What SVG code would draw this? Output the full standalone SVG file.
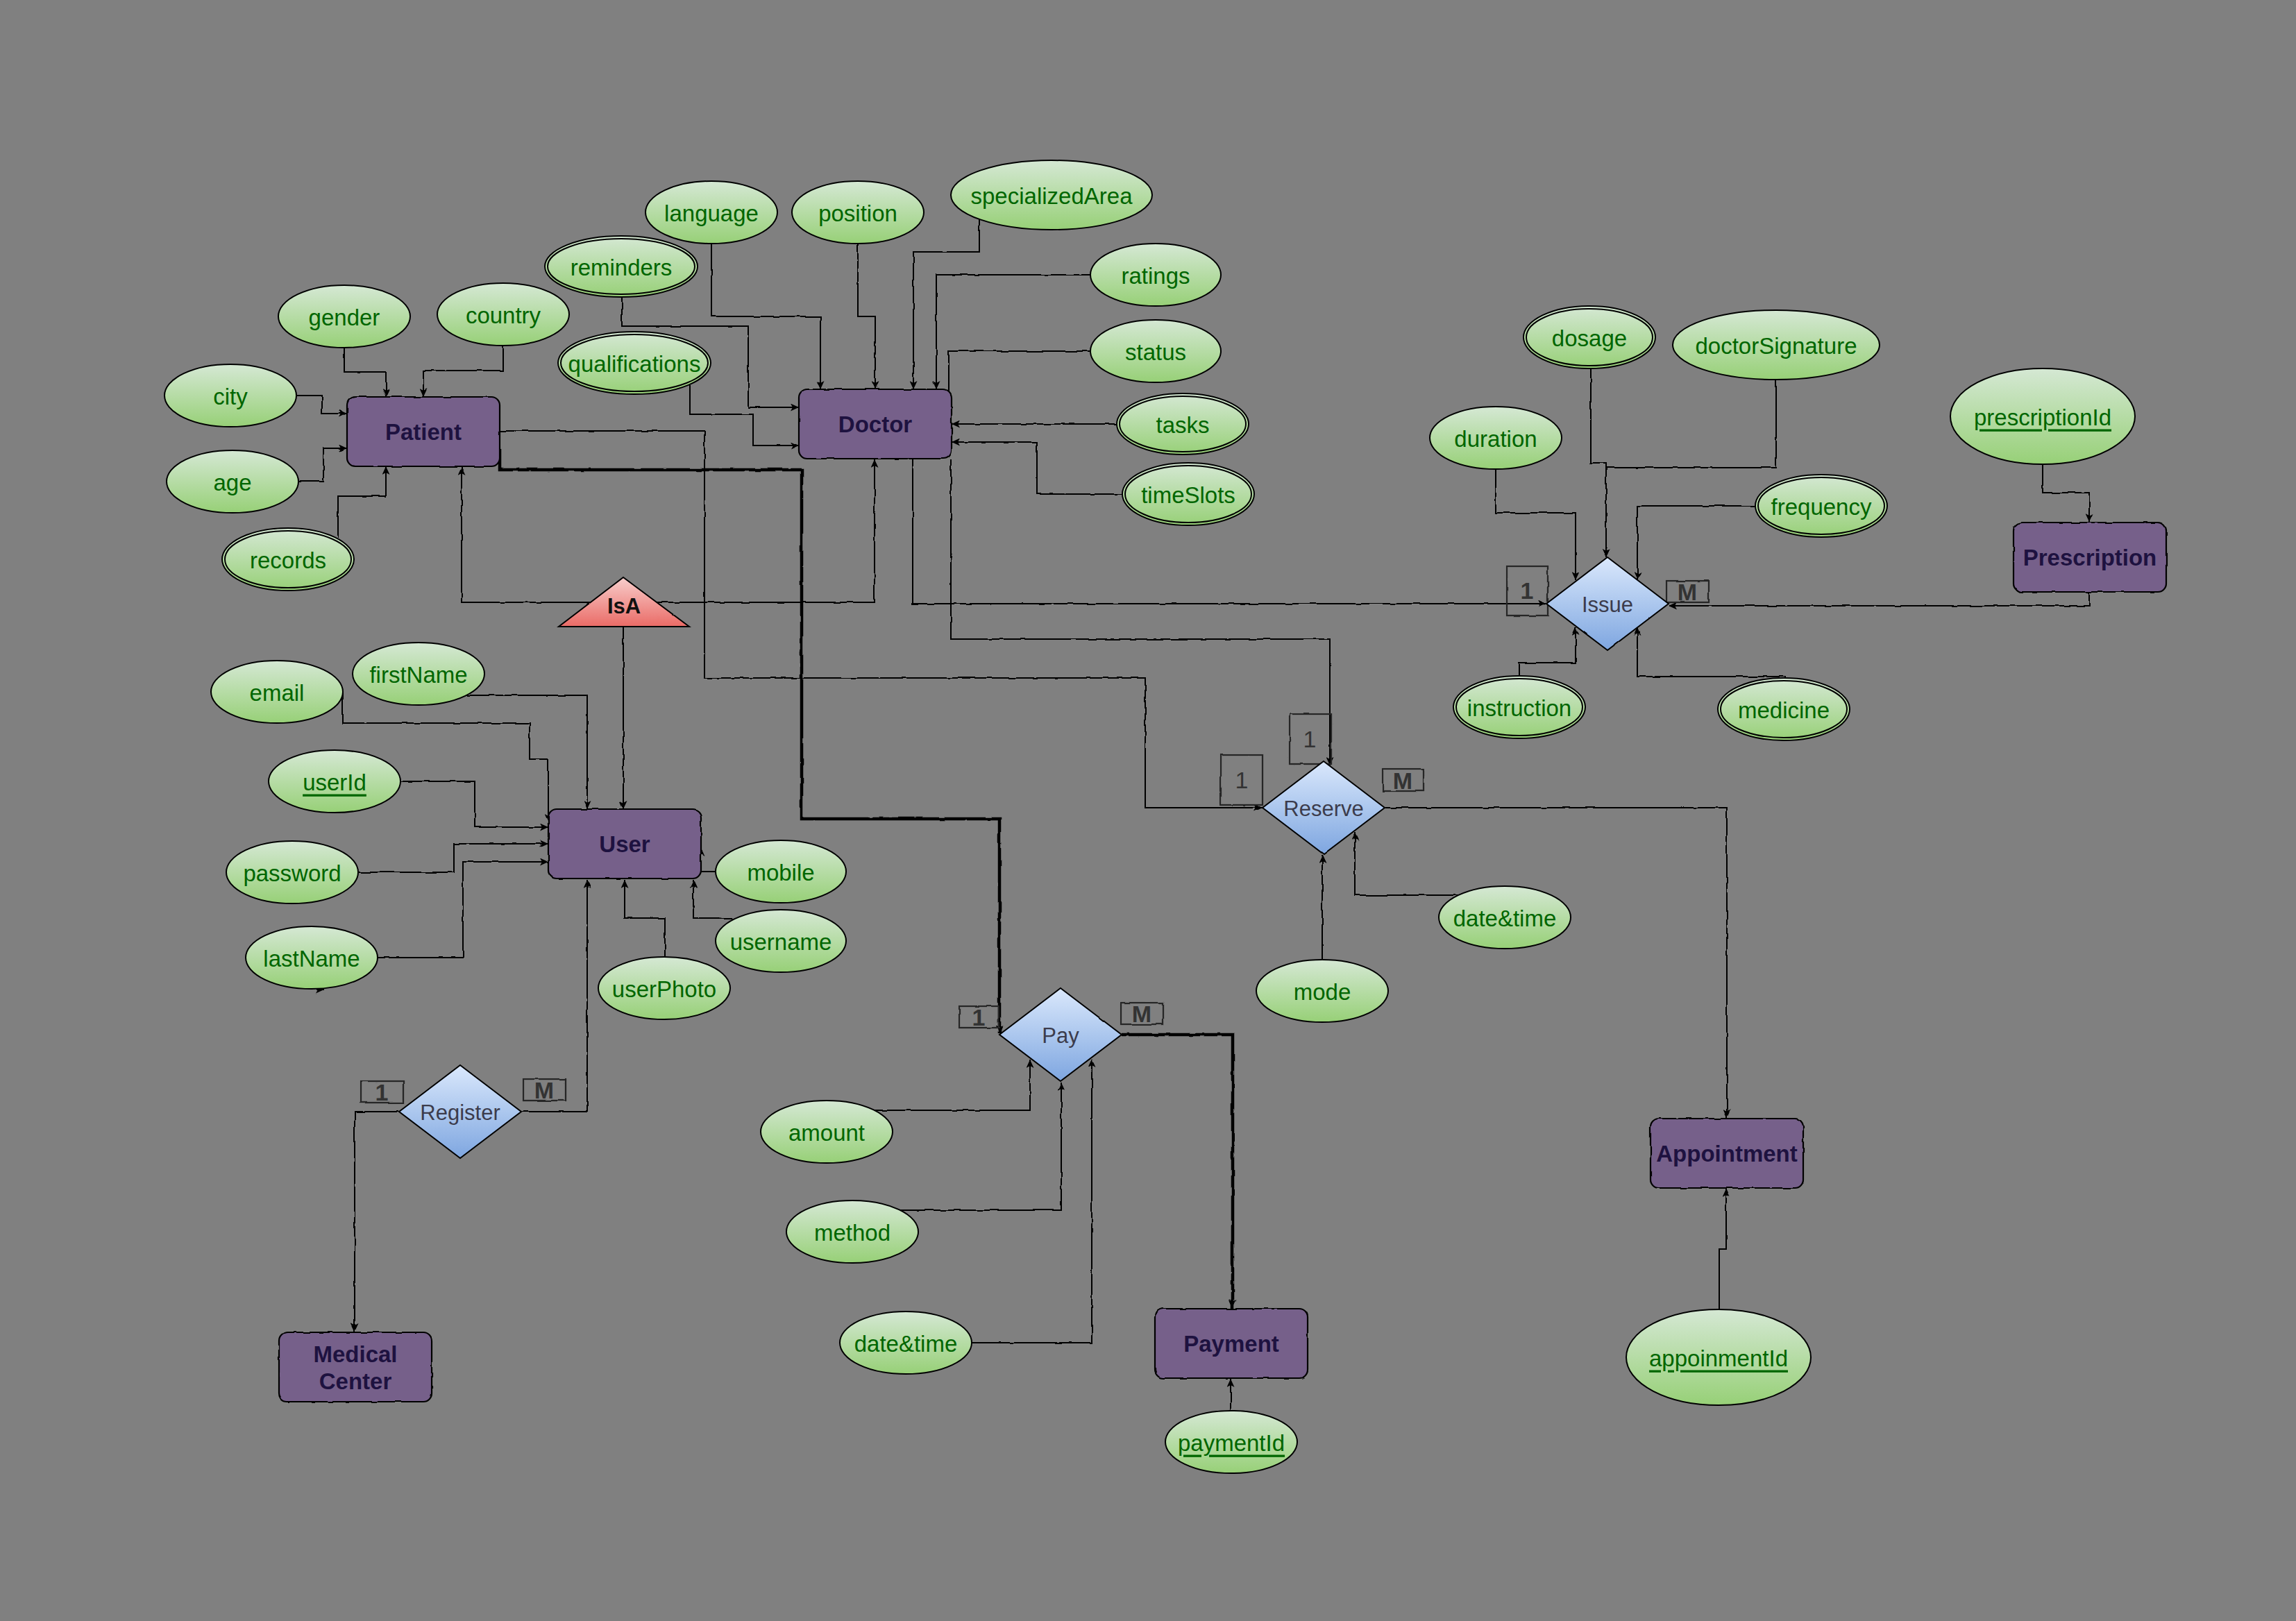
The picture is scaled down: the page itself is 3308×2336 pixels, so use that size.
<svg xmlns="http://www.w3.org/2000/svg" width="3308" height="2336" viewBox="0 0 3308 2336">
  <defs>
    <style>
      text { font-family: "Liberation Sans", Arial, sans-serif; text-anchor: middle; dominant-baseline: central; }
      .at { fill: #006600; font-size: 33px; }
      .key { text-decoration: underline; }
      .en { fill: #1e1240; font-size: 33px; font-weight: bold; }
      .rl { fill: #3c3c4c; font-size: 31px; }
      .card { fill: #333333; font-size: 34px; font-weight: bold; }
      .card.thin { font-weight: normal; }
      .isa { fill: #111111; font-size: 31px; font-weight: bold; }
      .ell { fill: url(#gAttr); stroke: #000; stroke-width: 2; }
      .inner { fill: none; stroke: #000; stroke-width: 2; }
      .ent { fill: #76608a; stroke: #000; stroke-width: 2.2; filter: url(#rough); }
      .rel { fill: url(#gRel); stroke: #000; stroke-width: 2; filter: url(#roughSoft); }
      .tri { fill: url(#gIsa); stroke: #000; stroke-width: 2; filter: url(#roughSoft); }
      .cbox { fill: none; stroke: #262626; stroke-width: 2.2; filter: url(#rough); }
      .edges path { fill: none; stroke: #000; stroke-width: 2; marker-end: url(#arrow); }
      .edges path.thick { stroke-width: 4.5; }
    </style>
    <linearGradient id="gAttr" x1="0" y1="0" x2="0" y2="1">
      <stop offset="0" stop-color="#d5e8d4"/>
      <stop offset="1" stop-color="#97d077"/>
    </linearGradient>
    <linearGradient id="gRel" x1="0" y1="0" x2="0" y2="1">
      <stop offset="0" stop-color="#dae8fc"/>
      <stop offset="1" stop-color="#7ea6e0"/>
    </linearGradient>
    <linearGradient id="gIsa" x1="0" y1="0" x2="0" y2="1">
      <stop offset="0" stop-color="#f8cecc"/>
      <stop offset="1" stop-color="#ea6b66"/>
    </linearGradient>
    <!-- hand-drawn wobble for outlines and connectors -->
    <filter id="rough" x="-5%" y="-5%" width="110%" height="110%">
      <feTurbulence type="fractalNoise" baseFrequency="0.06" numOctaves="1" seed="7" result="noise"/>
      <feDisplacementMap in="SourceGraphic" in2="noise" scale="3.5" xChannelSelector="R" yChannelSelector="G"/>
    </filter>
    <filter id="roughSoft" x="-5%" y="-5%" width="110%" height="110%">
      <feTurbulence type="fractalNoise" baseFrequency="0.05" numOctaves="1" seed="3" result="noise"/>
      <feDisplacementMap in="SourceGraphic" in2="noise" scale="2" xChannelSelector="R" yChannelSelector="G"/>
    </filter>
    <marker id="arrow" markerUnits="userSpaceOnUse" markerWidth="13" markerHeight="11" refX="12" refY="5.5" orient="auto">
      <path d="M0,0 L12,5.5 L0,11 L3,5.5 Z" fill="#000"/>
    </marker>
  </defs>

  <rect x="0" y="0" width="3308" height="2336" fill="#808080"/>

  <!-- connectors -->
  <g id="connectors" class="edges" filter="url(#rough)">
    <!-- Patient attributes -->
    <path d="M496 501 V536 H556 V572"/>
    <path d="M725 498 V534 H610 V572"/>
    <path d="M427 570 H464 V596 H500"/>
    <path d="M430 694 H466 V646 H500"/>
    <path d="M487 776 V715 H556 V672"/>
    <!-- Doctor attributes -->
    <path d="M1025 351 V456 H1182 V561"/>
    <path d="M1236 351 V456 H1261 V561"/>
    <path d="M1411 316 V363 H1316 V561"/>
    <path d="M1571 396 H1349 V561"/>
    <path d="M1571 506 H1367 V600"/>
    <path d="M1609 611 H1371"/>
    <path d="M1617 712 H1494 V637 H1371"/>
    <path d="M896 427 V470 H1078 V587 H1151"/>
    <path d="M994 555 V597 H1085 V642 H1151"/>
    <!-- IsA specialisation -->
    <path d="M898 868 H665 V673"/>
    <path d="M898 868 H1260 V662"/>
    <path d="M898 903 V1166"/>
    <!-- Reserve -->
    <path d="M720 621 H1015 V977 H1650 V1164 H1819"/>
    <path d="M1370 662 V921 H1916 V1103"/>
    <path d="M1996 1164 H2488 V1611"/>
    <path d="M1905 1383 V1232"/>
    <path d="M2102 1290 H1952 V1199"/>
    <path d="M2477 1887 V1800 H2487 V1713"/>
    <!-- Issue -->
    <path d="M1315 662 V870 H2228"/>
    <path d="M3010 854 V873 H2404"/>
    <path d="M2943 669 V710 H3010 V752"/>
    <path d="M2155 676 V739 H2270 V836"/>
    <path d="M2292 531 V667 H2314 V803"/>
    <path d="M2559 547 V674 H2314 V803"/>
    <path d="M2529 729 H2359 V836"/>
    <path d="M2189 974 V955 H2270 V904"/>
    <path d="M2573 975 H2359 V904"/>
    <!-- Pay -->
    <path class="thick" d="M720 647 V677 H1155 V1180 H1440 V1489"/>
    <path class="thick" d="M1616 1491 H1776 V1885"/>
    <path d="M1260 1600 H1484 V1527"/>
    <path d="M1297 1744 H1529 V1560"/>
    <path d="M1399 1935 H1573 V1526"/>
    <path d="M1773 2033 V1987"/>
    <!-- User attributes -->
    <path d="M494 998 V1042 H763 V1094 H790 V1185"/>
    <path d="M672 1002 H846 V1166"/>
    <path d="M578 1126 H684 V1192 H790"/>
    <path d="M516 1257 H654 V1216 H790"/>
    <path d="M543 1380 H667 V1242 H790"/>
    <path d="M456 1426 H467"/>
    <path d="M1031 1256 H1010 V1222"/>
    <path d="M1058 1324 H999 V1268"/>
    <path d="M958 1379 V1323 H900 V1268"/>
    <!-- Register -->
    <path d="M752 1602 H846 V1268"/>
    <path d="M574 1602 H511 V1919"/>
  </g>

  <!-- cardinality labels -->
  <g id="cardinalities">
    <rect class="cbox" x="2171" y="816" width="59" height="71"/>
    <text class="card" x="2200" y="851">1</text>
    <rect class="cbox" x="2401" y="837" width="61" height="31"/>
    <text class="card" x="2431" y="853">M</text>
    <rect class="cbox" x="1858" y="1029" width="60" height="72"/>
    <text class="card thin" x="1887" y="1065">1</text>
    <rect class="cbox" x="1759" y="1088" width="60" height="72"/>
    <text class="card thin" x="1789" y="1124">1</text>
    <rect class="cbox" x="1992" y="1108" width="59" height="32"/>
    <text class="card" x="2021" y="1125">M</text>
    <rect class="cbox" x="1382" y="1450" width="57" height="31"/>
    <text class="card" x="1410" y="1466">1</text>
    <rect class="cbox" x="1615" y="1445" width="61" height="31"/>
    <text class="card" x="1645" y="1461">M</text>
    <rect class="cbox" x="520" y="1558" width="61" height="31"/>
    <text class="card" x="550" y="1574">1</text>
    <rect class="cbox" x="754" y="1555" width="61" height="31"/>
    <text class="card" x="784" y="1571">M</text>
  </g>

  <!-- entities -->
  <g id="patient"><rect class="ent" x="500" y="572" width="220" height="100" rx="12"/><text class="en" x="610" y="622">Patient</text></g>
  <g id="doctor"><rect class="ent" x="1151" y="561" width="220" height="100" rx="12"/><text class="en" x="1261" y="611">Doctor</text></g>
  <g id="user"><rect class="ent" x="790" y="1166" width="220" height="100" rx="12"/><text class="en" x="900" y="1216">User</text></g>
  <g id="prescription"><rect class="ent" x="2901" y="753" width="220" height="100" rx="12"/><text class="en" x="3011" y="803">Prescription</text></g>
  <g id="medical-center"><rect class="ent" x="402" y="1920" width="220" height="100" rx="12"/><text class="en" x="512" y="1951">Medical</text><text class="en" x="512" y="1990">Center</text></g>
  <g id="payment"><rect class="ent" x="1664" y="1886" width="220" height="100" rx="12"/><text class="en" x="1774" y="1936">Payment</text></g>
  <g id="appointment"><rect class="ent" x="2378" y="1612" width="220" height="100" rx="12"/><text class="en" x="2488" y="1662">Appointment</text></g>

  <!-- relationships -->
  <g id="issue"><polygon class="rel" points="2316,803 2404,870 2316,937 2228,870"/><text class="rl" x="2316" y="871">Issue</text></g>
  <g id="reserve"><polygon class="rel" points="1907,1097 1995,1164 1907,1231 1819,1164"/><text class="rl" x="1907" y="1165">Reserve</text></g>
  <g id="pay"><polygon class="rel" points="1528,1424 1616,1491 1528,1558 1440,1491"/><text class="rl" x="1528" y="1492">Pay</text></g>
  <g id="register"><polygon class="rel" points="663,1535 751,1602 663,1669 575,1602"/><text class="rl" x="663" y="1603">Register</text></g>

  <!-- specialisation -->
  <g id="isa"><polygon class="tri" points="898,832 993,903 805,903"/><text class="isa" x="899" y="873">IsA</text></g>

  <!-- attributes -->
  <g id="attr-gender"><ellipse class="ell" cx="496" cy="456" rx="95" ry="45"/><text class="at" x="496" y="457">gender</text></g>
  <g id="attr-country"><ellipse class="ell" cx="725" cy="453" rx="95" ry="45"/><text class="at" x="725" y="454">country</text></g>
  <g id="attr-city"><ellipse class="ell" cx="332" cy="570" rx="95" ry="45"/><text class="at" x="332" y="571">city</text></g>
  <g id="attr-age"><ellipse class="ell" cx="335" cy="694" rx="95" ry="45"/><text class="at" x="335" y="695">age</text></g>
  <g id="attr-records"><ellipse class="ell" cx="415" cy="806" rx="95" ry="45"/><ellipse class="inner" cx="415" cy="806" rx="91" ry="41"/><text class="at" x="415" y="807">records</text></g>

  <g id="attr-reminders"><ellipse class="ell" cx="895" cy="384" rx="110" ry="44"/><ellipse class="inner" cx="895" cy="384" rx="106" ry="40"/><text class="at" x="895" y="385">reminders</text></g>
  <g id="attr-qualifications"><ellipse class="ell" cx="914" cy="523" rx="110" ry="45"/><ellipse class="inner" cx="914" cy="523" rx="106" ry="41"/><text class="at" x="914" y="524">qualifications</text></g>
  <g id="attr-language"><ellipse class="ell" cx="1025" cy="306" rx="95" ry="45"/><text class="at" x="1025" y="307">language</text></g>
  <g id="attr-position"><ellipse class="ell" cx="1236" cy="306" rx="95" ry="45"/><text class="at" x="1236" y="307">position</text></g>
  <g id="attr-specializedArea"><ellipse class="ell" cx="1515" cy="281" rx="145" ry="50"/><text class="at" x="1515" y="282">specializedArea</text></g>
  <g id="attr-ratings"><ellipse class="ell" cx="1665" cy="396" rx="94" ry="45"/><text class="at" x="1665" y="397">ratings</text></g>
  <g id="attr-status"><ellipse class="ell" cx="1665" cy="506" rx="94" ry="45"/><text class="at" x="1665" y="507">status</text></g>
  <g id="attr-tasks"><ellipse class="ell" cx="1704" cy="611" rx="95" ry="44"/><ellipse class="inner" cx="1704" cy="611" rx="91" ry="40"/><text class="at" x="1704" y="612">tasks</text></g>
  <g id="attr-timeSlots"><ellipse class="ell" cx="1712" cy="712" rx="95" ry="45"/><ellipse class="inner" cx="1712" cy="712" rx="91" ry="41"/><text class="at" x="1712" y="713">timeSlots</text></g>

  <g id="attr-dosage"><ellipse class="ell" cx="2290" cy="486" rx="95" ry="45"/><ellipse class="inner" cx="2290" cy="486" rx="91" ry="41"/><text class="at" x="2290" y="487">dosage</text></g>
  <g id="attr-doctorSignature"><ellipse class="ell" cx="2559" cy="497" rx="149" ry="50"/><text class="at" x="2559" y="498">doctorSignature</text></g>
  <g id="attr-duration"><ellipse class="ell" cx="2155" cy="631" rx="95" ry="45"/><text class="at" x="2155" y="632">duration</text></g>
  <g id="attr-frequency"><ellipse class="ell" cx="2624" cy="729" rx="95" ry="45"/><ellipse class="inner" cx="2624" cy="729" rx="91" ry="41"/><text class="at" x="2624" y="730">frequency</text></g>
  <g id="attr-prescriptionId"><ellipse class="ell" cx="2943" cy="600" rx="133" ry="69"/><text class="at key" x="2943" y="601">prescriptionId</text></g>
  <g id="attr-instruction"><ellipse class="ell" cx="2189" cy="1019" rx="95" ry="45"/><ellipse class="inner" cx="2189" cy="1019" rx="91" ry="41"/><text class="at" x="2189" y="1020">instruction</text></g>
  <g id="attr-medicine"><ellipse class="ell" cx="2570" cy="1022" rx="95" ry="45"/><ellipse class="inner" cx="2570" cy="1022" rx="91" ry="41"/><text class="at" x="2570" y="1023">medicine</text></g>

  <g id="attr-email"><ellipse class="ell" cx="399" cy="997" rx="95" ry="45"/><text class="at" x="399" y="998">email</text></g>
  <g id="attr-firstName"><ellipse class="ell" cx="603" cy="971" rx="95" ry="45"/><text class="at" x="603" y="972">firstName</text></g>
  <g id="attr-userId"><ellipse class="ell" cx="482" cy="1126" rx="95" ry="45"/><text class="at key" x="482" y="1127">userId</text></g>
  <g id="attr-password"><ellipse class="ell" cx="421" cy="1257" rx="95" ry="45"/><text class="at" x="421" y="1258">password</text></g>
  <g id="attr-lastName"><ellipse class="ell" cx="449" cy="1380" rx="95" ry="45"/><text class="at" x="449" y="1381">lastName</text></g>
  <g id="attr-mobile"><ellipse class="ell" cx="1125" cy="1256" rx="94" ry="45"/><text class="at" x="1125" y="1257">mobile</text></g>
  <g id="attr-username"><ellipse class="ell" cx="1125" cy="1356" rx="94" ry="45"/><text class="at" x="1125" y="1357">username</text></g>
  <g id="attr-userPhoto"><ellipse class="ell" cx="957" cy="1424" rx="95" ry="45"/><text class="at" x="957" y="1425">userPhoto</text></g>

  <g id="attr-amount"><ellipse class="ell" cx="1191" cy="1631" rx="95" ry="45"/><text class="at" x="1191" y="1632">amount</text></g>
  <g id="attr-method"><ellipse class="ell" cx="1228" cy="1775" rx="95" ry="45"/><text class="at" x="1228" y="1776">method</text></g>
  <g id="attr-pay-datetime"><ellipse class="ell" cx="1305" cy="1935" rx="95" ry="45"/><text class="at" x="1305" y="1936">date&amp;time</text></g>
  <g id="attr-paymentId"><ellipse class="ell" cx="1774" cy="2078" rx="95" ry="45"/><text class="at key" x="1774" y="2079">paymentId</text></g>

  <g id="attr-mode"><ellipse class="ell" cx="1905" cy="1428" rx="95" ry="45"/><text class="at" x="1905" y="1429">mode</text></g>
  <g id="attr-reserve-datetime"><ellipse class="ell" cx="2168" cy="1322" rx="95" ry="45"/><text class="at" x="2168" y="1323">date&amp;time</text></g>
  <g id="attr-appoinmentId"><ellipse class="ell" cx="2476" cy="1956" rx="133" ry="69"/><text class="at key" x="2476" y="1957">appoinmentId</text></g>
</svg>
